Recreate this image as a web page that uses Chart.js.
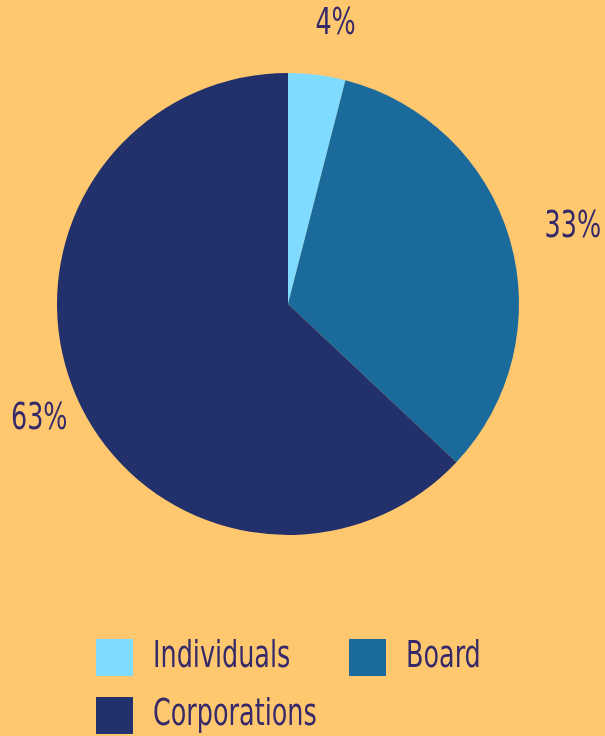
<!DOCTYPE html>
<html>
<head>
<meta charset="utf-8">
<script src="https://cdn.jsdelivr.net/npm/chart.js@4"></script>
<style>
  html, body { margin: 0; padding: 0; background: #FFC86E; }
  #wrap { width: 605px; height: 736px; }
</style>
</head>
<body>
<div id="wrap"><canvas id="pie" width="605" height="736"></canvas></div>
<script>
// chart data
const categories = ['Individuals', 'Board', 'Corporations'];
const shares = [4, 33, 63];
const sliceColors = ['#7FDBFF', '#1A6A9B', '#22306B'];

const textColor = '#35296A';
const fontFamily = '"DejaVu Sans Condensed", "DejaVu Sans", sans-serif';

// narrow text: squeeze horizontally so it looks like a condensed face
function drawNarrowText(ctx, text, x, y, align) {
    const squeeze = 0.745;
    const w = ctx.measureText(text).width * squeeze;
    let left = x;
    if (align === 'center') left = x - w / 2;
    if (align === 'right') left = x - w;
    ctx.save();
    ctx.translate(left, y);
    ctx.scale(squeeze, 1);
    ctx.textAlign = 'left';
    ctx.fillText(text, 0, 0);
    ctx.restore();
}

// percentage labels outside the slices
const outsideLabels = {
    id: 'outsideLabels',
    afterDatasetsDraw(chart) {
        const ctx = chart.ctx;
        const meta = chart.getDatasetMeta(0);
        ctx.save();
        ctx.font = '38px ' + fontFamily;
        ctx.fillStyle = textColor;
        ctx.textBaseline = 'middle';
        meta.data.forEach((arc, i) => {
            const mid = (arc.startAngle + arc.endAngle) / 2;
            const r = arc.outerRadius * 1.23;
            const x = arc.x + Math.cos(mid) * r + 12;
            const y = arc.y + Math.sin(mid) * r + 2;
            drawNarrowText(ctx, shares[i] + '%', x, y, 'center');
        });
        ctx.restore();
    }
};

// legend in two columns at the bottom
const bottomLegend = {
    id: 'bottomLegend',
    afterDraw(chart) {
        const ctx = chart.ctx;
        const box = 37;
        const colX = [96, 349];
        const rowY = [639, 697];
        ctx.save();
        ctx.font = '38px ' + fontFamily;
        ctx.textBaseline = 'middle';
        categories.forEach((name, i) => {
            const x = colX[i % 2];
            const y = rowY[Math.floor(i / 2)];
            ctx.fillStyle = sliceColors[i];
            ctx.fillRect(x, y, box, box);
            ctx.fillStyle = textColor;
            drawNarrowText(ctx, name, x + 57, y + box / 2, 'left');
        });
        ctx.restore();
    }
};

new Chart(document.getElementById('pie').getContext('2d'), {
    type: 'pie',
    data: {
        labels: categories,
        datasets: [{
            data: shares,
            backgroundColor: sliceColors,
            borderWidth: 0
        }]
    },
    options: {
        responsive: false,
        animation: false,
        layout: { padding: { top: 73, bottom: 201, left: 57, right: 86 } },
        plugins: {
            legend: { display: false },
            tooltip: { enabled: false }
        }
    },
    plugins: [outsideLabels, bottomLegend]
});
</script>
</body>
</html>
